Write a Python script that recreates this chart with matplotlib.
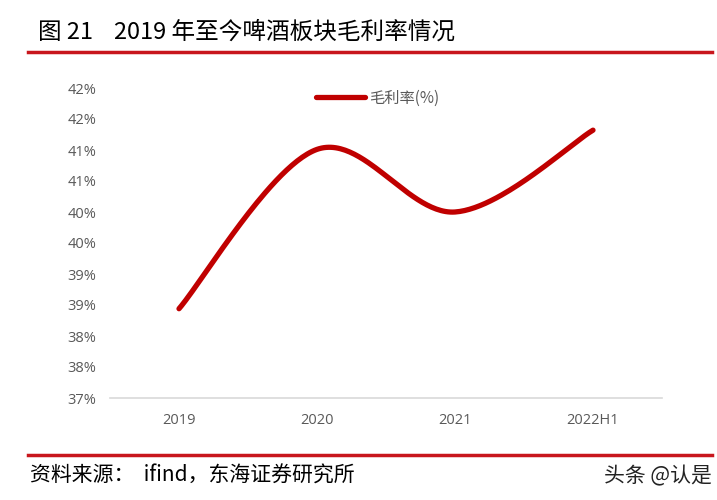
import matplotlib.pyplot as plt
import numpy as np

plt.rcParams['font.family'] = ['Noto Sans CJK SC', 'DejaVu Sans']

years = ['2019', '2020', '2021', '2022H1']
margin = [38.44, 41.01, 40.00, 41.32]
yticks = [37.0, 37.5, 38.0, 38.5, 39.0, 39.5, 40.0, 40.5, 41.0, 41.5, 42.0]
ytick_labels = ['37%', '38%', '38%', '39%', '39%', '40%', '40%', '41%', '41%', '42%', '42%']

red = '#C00000'
gray = '#595959'


def smooth(x, y, n=60):
    # catmull-rom, like excel's smoothed line
    x = np.asarray(x, float)
    y = np.asarray(y, float)
    px = np.concatenate([[x[0]], x, [x[-1]]])
    py = np.concatenate([[y[0]], y, [y[-1]]])
    xs, ys = [], []
    for i in range(1, len(px) - 2):
        t = np.linspace(0, 1, n)
        for p, out in ((px, xs), (py, ys)):
            p0, p1, p2, p3 = p[i - 1], p[i], p[i + 1], p[i + 2]
            out.append(0.5 * (2 * p1 + (-p0 + p2) * t
                              + (2 * p0 - 5 * p1 + 4 * p2 - p3) * t ** 2
                              + (-p0 + 3 * p1 - 3 * p2 + p3) * t ** 3))
    return np.concatenate(xs), np.concatenate(ys)


fig = plt.figure(figsize=(7.17, 5), dpi=100)
ax = fig.add_axes([110 / 717, 102 / 500, 552 / 717, 310 / 500])

xi = np.arange(len(years))
sx, sy = smooth(xi, margin)
ax.plot(sx, sy, color=red, lw=3.8, solid_capstyle='round', label='毛利率(%)')

ax.set_xlim(-0.5, len(years) - 0.5)
ax.set_ylim(37, 42)
ax.set_xticks(xi)
ax.set_xticklabels(years, family=['Open Sans', 'DejaVu Sans'])
ax.set_yticks(yticks)
ax.set_yticklabels(ytick_labels, family=['Open Sans', 'DejaVu Sans'])
ax.tick_params(length=0, labelsize=10.5, labelcolor=gray)
ax.tick_params(axis='y', pad=10)
ax.tick_params(axis='x', pad=11)
for s in ['top', 'right', 'left']:
    ax.spines[s].set_visible(False)
ax.spines['bottom'].set_color('#D9D9D9')
ax.spines['bottom'].set_linewidth(1.2)

leg = ax.legend(loc='upper center', bbox_to_anchor=(0.485, 1.04), frameon=False,
                fontsize=11, handlelength=3.2, handletextpad=0.3)
for t in leg.get_texts():
    t.set_color(gray)

fig.text(38 / 717, 1 - 32 / 500, '图 21    2019 年至今啤酒板块毛利率情况',
         fontsize=17, fontweight='medium', va='center', ha='left', color='black')
fig.add_artist(plt.Line2D([28 / 717, 712 / 717], [1 - 52 / 500] * 2, color='#C8161D', lw=2.5))
fig.add_artist(plt.Line2D([28 / 717, 712 / 717], [1 - 455 / 500] * 2, color='#C8161D', lw=2.5))
fig.text(30 / 717, 1 - 476 / 500, '资料来源：  ifind，东海证券研究所',
         fontsize=15, va='center', ha='left', color='black')
fig.text(712 / 717, 1 - 476 / 500, '头条 @认是',
         fontsize=15, va='center', ha='right', color='#222222')

fig.savefig('out.png', dpi=100)
